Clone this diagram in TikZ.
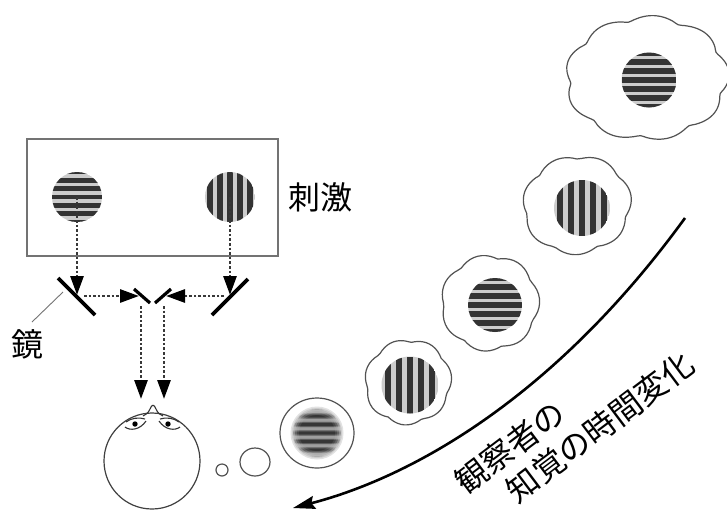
\documentclass[tikz,border=0pt]{standalone}
\usepackage{fontspec}
\newfontfamily\jpfont{Noto Sans CJK JP}
\usetikzlibrary{arrows.meta}

\definecolor{gratdark}{gray}{0.2}
\definecolor{gratlight}{gray}{0.8}

% horizontal grating: centre x, centre y, radius, period
\newcommand\hgrating[4]{%
  \begin{scope}
    \clip (#1,#2) circle (#3);
    \fill[gratlight] (#1,#2) circle (#3);
    \foreach \k in {-5,...,5}
      \fill[gratdark] ({#1-#3},{#2+(\k)*#4-0.28*#4}) rectangle ({#1+#3},{#2+(\k)*#4+0.28*#4});
  \end{scope}}

% vertical grating: centre x, centre y, radius, period
\newcommand\vgrating[4]{%
  \begin{scope}
    \clip (#1,#2) circle (#3);
    \fill[gratlight] (#1,#2) circle (#3);
    \foreach \k in {-5,...,5}
      \fill[gratdark] ({#1+(\k)*#4-0.28*#4},{#2-#3}) rectangle ({#1+(\k)*#4+0.28*#4},{#2+#3});
  \end{scope}}

% thought cloud: centre x, centre y, radius x, radius y, half lobe count, phase, depth
\newcommand\cloudpuff[7]{%
  \draw[cloudline] plot[smooth cycle, variable=\t, samples=72, domain=0:355]
    ({#1+#3*(1+#7*(abs(cos(#5*\t+#6))-0.6)+0.025*cos(2*\t+#6))*cos(\t)},
     {#2+#4*(1+#7*(abs(cos(#5*\t+#6))-0.6)+0.025*cos(2*\t+#6))*sin(\t)});}

\begin{document}
\begin{tikzpicture}[x=1pt,y=-1pt,
  frame/.style={draw=black!55, line width=1.1pt, inner sep=0pt},
  ray/.style={draw=black!78, line width=2.8pt, dash pattern=on 2.6pt off 2pt,
    -{Triangle[length=19pt,width=13pt,color=black]}},
  mirror/.style={line width=3.6pt, black},
  smallmirror/.style={line width=3.2pt, black},
  cloudline/.style={draw=black!68, line width=1.2pt},
  facepen/.style={draw=black!80, line width=1.1pt},
  leader/.style={draw=black!55, line width=0.9pt},
  jplabel/.style={font=\jpfont\fontsize{32}{36}\selectfont, inner sep=0pt},
  bigarrow/.style={line width=2.6pt, black, -{Stealth[length=22pt,width=13pt,inset=3pt]}}]

\useasboundingbox (0,0) rectangle (727,512);
\fill[white] (0,0) rectangle (727,512);

% ---- stimulus panel ----
\node[frame, minimum width=251, minimum height=117] (stimBox) at (152.5,197.5) {};
\coordinate (stimL) at (77,197);
\coordinate (stimR) at (230,197);
\hgrating{77}{197}{25}{8.3}
\vgrating{230}{197}{25}{10}
\node[jplabel] (stimLabel) at (320,197) {刺激};

% ---- mirrors ----
\draw[mirror] (58,278) -- (95,315);
\draw[mirror] (212,315) -- (248,279);
\draw[smallmirror] (134,289) -- (150,303);
\draw[smallmirror] (155,303) -- (171,289);
\coordinate (hitL) at (77,295);
\coordinate (hitR) at (230,295);
\coordinate (outL) at (84,296);
\coordinate (outR) at (224,296);
\coordinate (hitCL) at (139,296);
\coordinate (hitCR) at (166,296);
\coordinate (outCL) at (141,306);
\coordinate (outCR) at (164,306);
\coordinate (eyeL) at (141,399);
\coordinate (eyeR) at (164,399);

% ---- light paths ----
\draw[ray] (stimL) -- (hitL);
\draw[ray] (stimR) -- (hitR);
\draw[ray] (outL) -- (hitCL);
\draw[ray] (outR) -- (hitCR);
\draw[ray] (outCL) -- (eyeL);
\draw[ray] (outCR) -- (eyeR);

% ---- mirror label ----
\node[jplabel] (mirLabel) at (27,344) {鏡};
\coordinate (leadStart) at (32,322);
\coordinate (mirL) at (63,292);
\draw[leader] (leadStart) -- (mirL);

% ---- observer ----
\node[draw=black!75, line width=1.2pt, circle, minimum size=96, inner sep=0pt] (head) at (152,461) {};
\draw[facepen] (125,427) .. controls (130,431) and (140,430) .. (146,421);
\draw[facepen] (180,427) .. controls (175,431) and (165,430) .. (159,421);
\draw[facepen] (126,422) .. controls (131,418) and (139,417) .. (145,419);
\draw[facepen] (179,422) .. controls (174,418) and (166,417) .. (160,419);
\fill (135,424) circle (2.7);
\fill (168,424) circle (2.7);
\draw[facepen] (143,416) .. controls (148,413) .. (150,409) .. controls (152,404) and (154,404) .. (156,409) .. controls (158,413) .. (163,416);

% ---- thought bubbles ----
\coordinate (bubTiny) at (222,470);
\coordinate (bubSmall) at (255,462);
\coordinate (bubBlur) at (317,433);
\draw[cloudline] (bubTiny) circle (6);
\draw[cloudline] (bubSmall) ellipse [x radius=15, y radius=14];
\draw[cloudline] (bubBlur) ellipse [x radius=37, y radius=35];

% blurred grating: stacked translucent discs and bands
\foreach \rr in {26.5,25,23.5,22,20.5,18.5}
  \fill[black!45, opacity=0.25] (bubBlur) circle (\rr);
\foreach \rr in {24,22,20,18}{
  \begin{scope}
    \clip (bubBlur) circle (\rr);
    \fill[black, opacity=0.12] \foreach \k in {-3,...,3}
      { (280,{433+(\k)*8.5-2.6}) rectangle (354,{433+(\k)*8.5+2.6}) };
    \fill[black, opacity=0.12] \foreach \k in {-3,...,3}
      { (280,{433+(\k)*8.5-1.3}) rectangle (354,{433+(\k)*8.5+1.3}) };
  \end{scope}}

\cloudpuff{408}{382}{41.5}{42.5}{3.5}{30}{0.08}
\vgrating{410}{385}{28.5}{11}
\cloudpuff{490}{303}{47}{48}{3.5}{10}{0.08}
\hgrating{495}{305}{27}{9}
\cloudpuff{577}{205}{52}{49}{3.5}{40}{0.08}
\vgrating{582}{208}{28}{11}
\cloudpuff{647}{78}{78}{62}{4.5}{20}{0.08}
\hgrating{649}{80}{27.5}{9}

% ---- time course ----
\coordinate (tStart) at (685,218);
\coordinate (tEnd) at (293,508);
\draw[bigarrow] (tStart) .. controls (557,394) and (416,476) .. (tEnd);
\node[jplabel, rotate=37] (timeLine1) at (510,447) {観察者の};
\node[jplabel, rotate=37] (timeLine2) at (600,427) {知覚の時間変化};

\end{tikzpicture}
\end{document}
